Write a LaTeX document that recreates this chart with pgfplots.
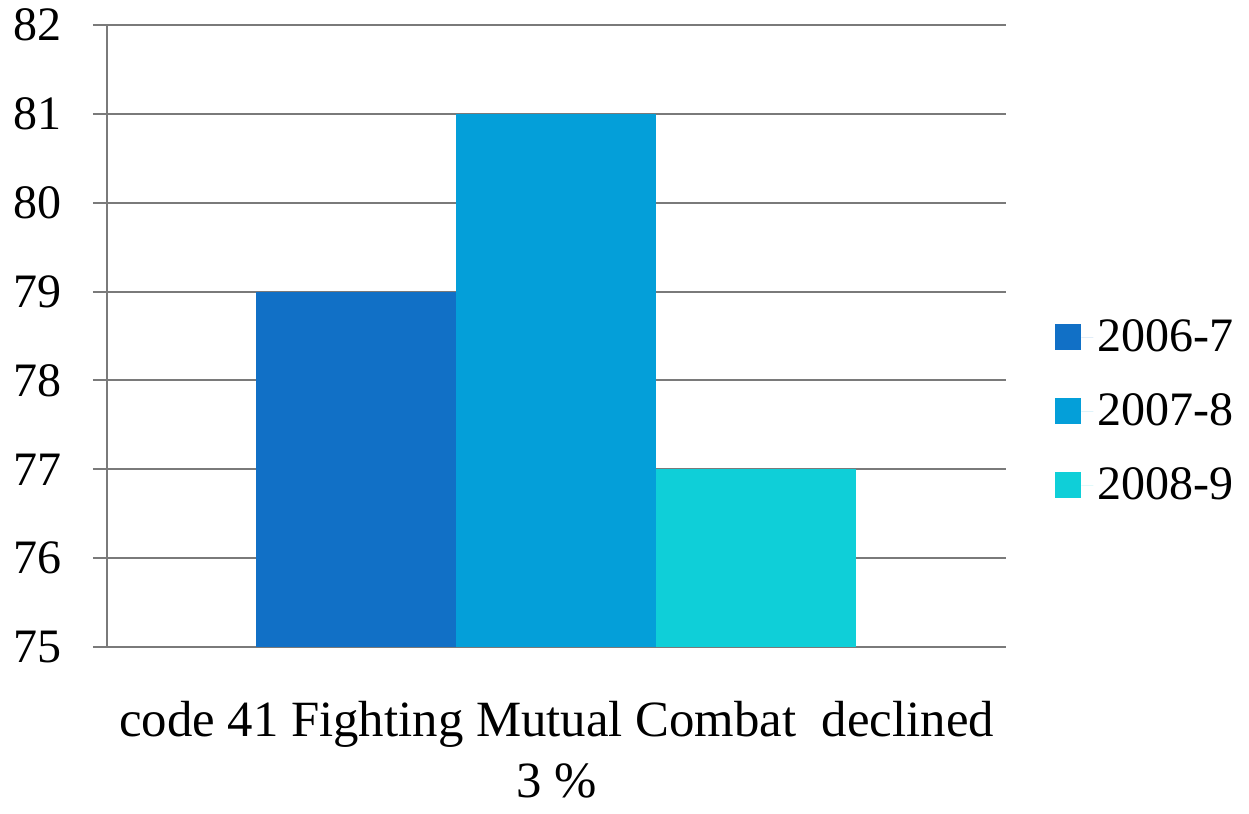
\documentclass[border=0pt]{standalone}
\usepackage{fontspec}
\setmainfont{Liberation Serif}
\usepackage{pgfplots}
\pgfplotsset{compat=1.18}
\definecolor{cA}{HTML}{1170C6}
\definecolor{cB}{HTML}{049FD9}
\definecolor{cC}{HTML}{0FCFD8}
\definecolor{gridc}{HTML}{7A7A7A}
\begin{document}
\begin{tikzpicture}
\begin{axis}[
  scale only axis,
  width=449.5pt, height=311pt,
  ybar=0pt, bar width=100pt,
  xmin=-1.5, xmax=1.5,
  ymin=75, ymax=82,
  ytick={75,76,77,78,79,80,81,82},
  xtick={0},
  xticklabels={{code 41 Fighting Mutual Combat\ \ declined\\3 \%}},
  extra x ticks={-1.5,1.5},
  extra x tick labels={},
  extra x tick style={major tick length=7pt, tick style={gridc, line width=1pt}},
  major x tick style={draw=none},
  axis x line*=bottom, axis y line*=left,
  axis line style={gridc, line width=1pt},
  ymajorgrids, grid style={gridc, line width=1pt},
  tick align=outside, major tick length=7pt,
  y tick style={gridc, line width=1pt},
  /pgf/number format/assume math mode=true,
  yticklabel style={font=\fontsize{24}{28}\selectfont, xshift=-12pt},
  xticklabel style={font=\fontsize{25.4}{30.5}\selectfont, align=center, yshift=-16.5pt},
  legend style={draw=none, fill=none, at={(1,0.379)}, anchor=west, xshift=21.5pt,
    font=\fontsize{24}{28}\selectfont, row sep=15.5pt, cells={anchor=west}},
  legend image code/.code={\fill[#1] (0pt,-6.5pt) rectangle (13pt,6.5pt); \path (13pt,0pt) -- (19pt,0pt);},
]
\addplot[fill=cA, draw=none] coordinates {(0,79)};
\addplot[fill=cB, draw=none] coordinates {(0,81)};
\addplot[fill=cC, draw=none] coordinates {(0,77)};
\legend{2006-7,2007-8,2008-9}
\end{axis}
\pgfresetboundingbox
\path (-53.5pt,-83.5pt) rectangle (571pt,323.5pt);
\end{tikzpicture}
\end{document}
